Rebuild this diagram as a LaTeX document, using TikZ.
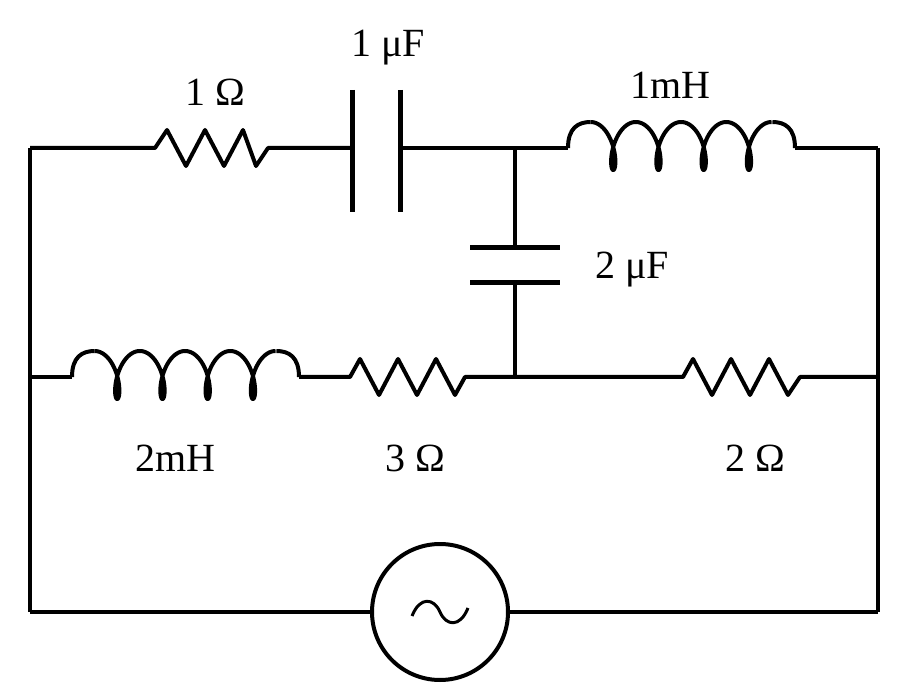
\documentclass[tikz,border=0pt]{standalone}
\usepackage{fontspec}
\setmainfont{Liberation Serif}
\begin{document}
\begin{tikzpicture}[x=1pt,y=-1pt,line width=4pt,line join=round,
  lbl/.style={font=\fontsize{40}{42}\selectfont,inner sep=0},
  plate/.style={line width=5pt}]
\useasboundingbox (0,0) rectangle (900,700);
% junctions
\coordinate (TL) at (30,148); \coordinate (TR) at (878,148);
\coordinate (ML) at (30,377); \coordinate (MR) at (878,377);
\coordinate (BL) at (30,612); \coordinate (BR) at (878,612);
\coordinate (J1) at (515,148); \coordinate (J2) at (515,377);
% outer verticals
\draw (TL) -- (BL); \draw (TR) -- (BR);
% top branch
\draw (TL) -- (155,148) -- (167,130) -- (186,166) -- (205,130) -- (224,166) -- (243,130) -- (256,166) -- (268,148) -- (352,148);
\draw[plate] (352,90) -- (352,212);
\draw[plate] (400,90) -- (400,212);
\draw (400,148) -- (J1) -- (568,148);
\draw (568,148) .. controls (568,128) and (578,122) .. (590.6,122);
\draw[domain=180:1620,samples=300,smooth] plot ({568+0.12566*\x-11*sin(\x)},{170-24*(1-cos(\x))});
\draw (772.4,122) .. controls (785,122) and (795,128) .. (795,148);
\draw (795,148) -- (TR);
% middle vertical with capacitor
\draw (J1) -- (515,248);
\draw[plate] (470,248) -- (560,248);
\draw[plate] (470,283) -- (560,283);
\draw (515,283) -- (J2);
% middle branch
\draw (ML) -- (72,377);
\draw (72,377) .. controls (72,357) and (82,351) .. (94.6,351);
\draw[domain=180:1620,samples=300,smooth] plot ({72+0.12566*\x-11*sin(\x)},{399-24*(1-cos(\x))});
\draw (276.4,351) .. controls (289,351) and (299,357) .. (299,377);
\draw (299,377) -- (350,377) -- (360,359) -- (379,395) -- (398,359) -- (417,395) -- (436,359) -- (455,395) -- (465,377) -- (J2) -- (683,377) -- (693,359) -- (712,395) -- (731,359) -- (750,395) -- (769,359) -- (788,395) -- (800,377) -- (MR);
% bottom
\node[draw,circle,minimum size=136pt,inner sep=0] (S) at (440,612) {};
\draw (BL) -- (S.west); \draw (S.east) -- (BR);
\draw[line width=3pt] (412,616) .. controls (420,596) and (434,598) .. (440,612) .. controls (446,626) and (460,628) .. (468,608);
% labels
\node[lbl] (l1) at (215,92) {1 Ω};
\node[lbl] (l2) at (388,48) {1 μF};
\node[lbl] (l3) at (670,85) {1mH};
\node[lbl] (l4) at (632,270) {2 μF};
\node[lbl] (l5) at (175,458) {2mH};
\node[lbl] (l6) at (415,458) {3 Ω};
\node[lbl] (l7) at (755,458) {2 Ω};
\end{tikzpicture}
\end{document}
